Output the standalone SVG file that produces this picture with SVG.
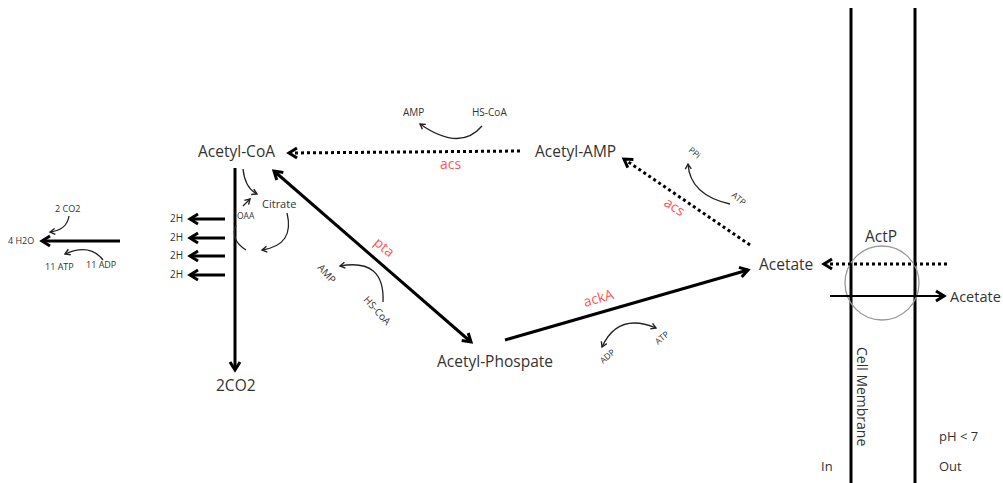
<svg xmlns="http://www.w3.org/2000/svg" width="1003" height="483" viewBox="0 0 1003 483">
  <style>
    text { font-family: "Open Sans", "Liberation Sans", sans-serif; fill: #333; }
    .lg { font-size: 15.5px; }
    .md { font-size: 11px; }
    .sm { font-size: 10px; }
    .xs { font-size: 8.5px; }
    .enz { font-size: 14px; fill: #ff5757; }
    .thick { stroke: #000; stroke-width: 3; fill: none; }
    .dot { stroke: #000; stroke-width: 3; fill: none; stroke-dasharray: 3 3; }
    .mid { stroke: #000; stroke-width: 2; fill: none; }
    .thin { stroke: #222; stroke-width: 1.3; fill: none; }
    .mem { stroke: #000; stroke-width: 3; }
  </style>
  <defs>
    <marker id="hd" markerUnits="userSpaceOnUse" markerWidth="14" markerHeight="14" refX="10" refY="6" orient="auto-start-reverse" viewBox="0 0 14 12">
      <path d="M2,1 L10,6 L2,11" fill="none" stroke="#000" stroke-width="3"/>
    </marker>
    <marker id="hs" markerUnits="userSpaceOnUse" markerWidth="10" markerHeight="10" refX="7" refY="4" orient="auto-start-reverse" viewBox="0 0 10 8">
      <path d="M2,1 L7,4 L2,7" fill="none" stroke="#222" stroke-width="1.4"/>
    </marker>
  </defs>

  <!-- membrane -->
  <g id="membrane">
    <line class="mem" x1="851" y1="8" x2="851" y2="483"/>
    <line class="mem" x1="915" y1="8" x2="915" y2="483"/>
    <text transform="translate(857,347) rotate(90)" style="font-size:14px">Cell Membrane</text>
    <text x="821" y="471" style="font-size:13px">In</text>
    <text x="939" y="471" style="font-size:13px">Out</text>
    <text x="939" y="441" style="font-size:13px">pH &lt; 7</text>
  </g>

  <g id="actp">
    <circle cx="882" cy="283" r="37" fill="none" stroke="#999" stroke-width="1.3"/>
    <text class="lg" x="865" y="242">ActP</text>
  </g>

  <g id="acetyl-coa"><text class="lg" x="198" y="157">Acetyl-CoA</text></g>
  <g id="acetyl-amp"><text class="lg" x="535" y="157">Acetyl-AMP</text></g>
  <g id="acetate-in"><text class="lg" x="759" y="270">Acetate</text></g>
  <g id="acetate-out"><text x="950" y="302" style="font-size:14.5px">Acetate</text></g>
  <g id="acetyl-phospate"><text class="lg" x="437" y="367">Acetyl-Phospate</text></g>
  <g id="co2"><text class="lg" x="216" y="391">2CO2</text></g>

  <g id="tca">
    <text class="md" x="262" y="208">Citrate</text>
    <text class="xs" x="237" y="219">OAA</text>
    <text class="sm" x="170" y="222">2H</text>
    <text class="sm" x="170" y="241">2H</text>
    <text class="sm" x="170" y="259">2H</text>
    <text class="sm" x="170" y="278">2H</text>
  </g>

  <g id="respiration">
    <text class="xs" x="8" y="244" style="font-size:9px">4 H2O</text>
    <text class="xs" x="55" y="212" style="font-size:9px">2 CO2</text>
    <text class="xs" x="45" y="270" style="font-size:9px">11 ATP</text>
    <text class="xs" x="86" y="268" style="font-size:9px">11 ADP</text>
  </g>

  <g id="cofactors">
    <text class="sm" x="403" y="116">AMP</text>
    <text class="sm" x="472" y="116">HS-CoA</text>
    <text class="xs" transform="translate(688,151) rotate(40)">PPi</text>
    <text class="xs" transform="translate(731,196) rotate(40)">ATP</text>
    <text class="sm" transform="translate(317,268) rotate(48)">AMP</text>
    <text class="sm" transform="translate(363,300) rotate(48)">HS-CoA</text>
    <text class="xs" transform="translate(603,364) rotate(-40)">ADP</text>
    <text class="xs" transform="translate(658,345) rotate(-40)">ATP</text>
  </g>

  <g id="enzymes">
    <text class="enz" x="440" y="169">acs</text>
    <text class="enz" transform="translate(663,205) rotate(33)">acs</text>
    <text class="enz" transform="translate(373,244) rotate(40)">pta</text>
    <text class="enz" transform="translate(585,307) rotate(-16)">ackA</text>
  </g>

  <g id="connectors">
    <!-- transport across membrane -->
    <line class="dot" x1="947" y1="264" x2="824" y2="264" marker-end="url(#hd)"/>
    <line class="mid" x1="830" y1="296" x2="944" y2="296" marker-end="url(#hd)"/>
    <!-- acetate activation -->
    <line class="dot" x1="750" y1="245" x2="624" y2="159" marker-end="url(#hd)"/>
    <line class="dot" x1="520" y1="151" x2="289" y2="153" marker-end="url(#hd)"/>
    <!-- pta / ackA -->
    <line class="thick" x1="274" y1="171" x2="471" y2="342" marker-start="url(#hd)" marker-end="url(#hd)"/>
    <line class="thick" x1="505" y1="340" x2="748" y2="270" marker-end="url(#hd)"/>
    <!-- acetyl-CoA to CO2 -->
    <line class="thick" x1="235" y1="168" x2="235" y2="370" marker-end="url(#hd)"/>
    <line class="thick" x1="225" y1="219" x2="190" y2="219" marker-end="url(#hd)"/>
    <line class="thick" x1="225" y1="238" x2="190" y2="238" marker-end="url(#hd)"/>
    <line class="thick" x1="225" y1="256" x2="190" y2="256" marker-end="url(#hd)"/>
    <line class="thick" x1="225" y1="275" x2="190" y2="275" marker-end="url(#hd)"/>
    <line class="thick" x1="120" y1="241" x2="42" y2="241" marker-end="url(#hd)"/>
    <!-- cofactor arcs -->
    <path class="thin" d="M482,126 Q460,152 420,124" marker-end="url(#hs)"/>
    <path class="thin" d="M730,204 Q690,195 688,164" marker-end="url(#hs)"/>
    <path class="thin" d="M383,302 Q385,258 340,266" marker-end="url(#hs)"/>
    <path class="thin" d="M602,347 Q618,312 656,328" marker-start="url(#hs)" marker-end="url(#hs)"/>
    <path class="thin" d="M243,169 Q245,188 257,194" marker-end="url(#hs)"/>
    <path class="thin" d="M243,206 L250,199" marker-end="url(#hs)"/>
    <path class="thin" d="M287,213 Q295,245 262,250" marker-end="url(#hs)"/>
    <path class="thin" d="M236,225 Q230,240 246,250"/>
    <path class="thin" d="M69,216 Q67,230 50,232" marker-end="url(#hs)"/>
    <path class="thin" d="M103,260 Q90,243 65,254" marker-end="url(#hs)"/>
  </g>
</svg>
